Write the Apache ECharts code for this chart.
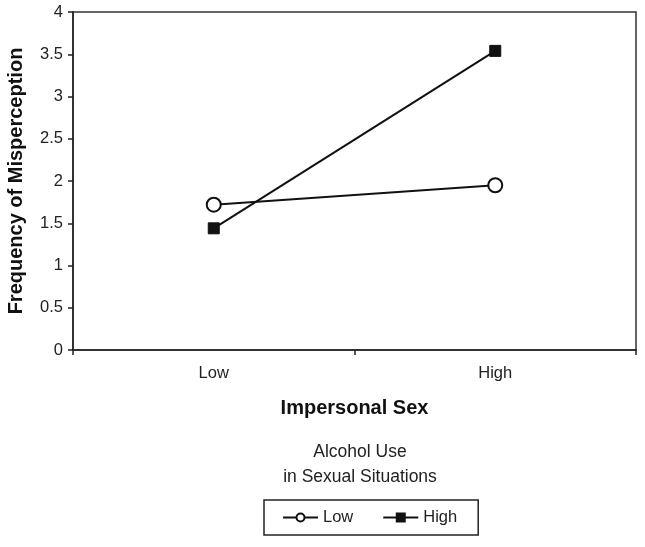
<!DOCTYPE html>
<html><head><meta charset="utf-8">
<script src="https://cdn.jsdelivr.net/npm/echarts@6/dist/echarts.min.js"></script>
<style>html,body{margin:0;padding:0;background:#fff}#c{width:645px;height:547px}</style>
</head><body><div id="c"></div>
<script>
const categories = ['Low', 'High'];
const lowAlcohol = [1.72, 1.95];
const highAlcohol = [1.44, 3.54];
const yTicks = [0, 0.5, 1, 1.5, 2, 2.5, 3, 3.5, 4];

const F = 'Liberation Sans, Arial, sans-serif';
const chart = echarts.init(document.getElementById('c'), null, {renderer: 'canvas'});
chart.setOption({
  animation: false,
  backgroundColor: '#fff',
  textStyle: {fontFamily: F},
  grid: {left: 73, right: 9, top: 12, bottom: 197, show: true, borderColor: '#333', borderWidth: 1.5,
         containLabel: false, outerBoundsMode: 'none'},
  xAxis: {
    type: 'category', data: categories, boundaryGap: true,
    name: 'Impersonal Sex', nameLocation: 'middle', nameGap: 48,
    nameTextStyle: {fontFamily: F, fontSize: 20, fontWeight: 'bold', color: '#111'},
    axisLine: {lineStyle: {color: '#222', width: 1.5}},
    axisTick: {show: true, length: 5, lineStyle: {color: '#222', width: 1.5}},
    axisLabel: {color: '#222', fontSize: 16.5, margin: 15, fontFamily: F},
    splitLine: {show: false}
  },
  yAxis: {
    type: 'value', min: 0, max: 4, interval: 0.5,
    name: 'Frequency of Misperception', nameLocation: 'middle', nameGap: 47, nameRotate: 90,
    nameTextStyle: {fontFamily: F, fontSize: 20, fontWeight: 'bold', color: '#111'},
    axisLine: {show: true, lineStyle: {color: '#222', width: 1.5}},
    axisTick: {show: true, length: 5, lineStyle: {color: '#222', width: 1.5}},
    axisLabel: {color: '#222', fontSize: 16.5, margin: 10, fontFamily: F,
      formatter: v => yTicks.includes(v) ? String(v) : ''},
    splitLine: {show: false}
  },
  title: {
    text: 'Alcohol Use\nin Sexual Situations',
    left: 355, textAlign: 'center', top: 435,
    textStyle: {fontFamily: F, fontSize: 17.5, fontWeight: 'normal', color: '#222', lineHeight: 25}
  },
  legend: {
    left: 264, top: 500,
    itemWidth: 35, itemHeight: 10, itemGap: 29,
    padding: [9, 21, 9, 18],
    borderColor: '#222', borderWidth: 1.5,
    textStyle: {fontFamily: F, fontSize: 16.5, color: '#222'},
    data: ['Low', 'High']
  },
  series: [
    {name: 'Low', type: 'line', data: lowAlcohol, symbol: 'circle', symbolSize: 14,
     lineStyle: {color: '#111', width: 2},
     itemStyle: {color: '#fff', borderColor: '#111', borderWidth: 2}},
    {name: 'High', type: 'line', data: highAlcohol, symbol: 'rect', symbolSize: 11,
     lineStyle: {color: '#111', width: 2},
     itemStyle: {color: '#111', borderColor: '#111', borderWidth: 1}}
  ]
});
</script></body></html>
